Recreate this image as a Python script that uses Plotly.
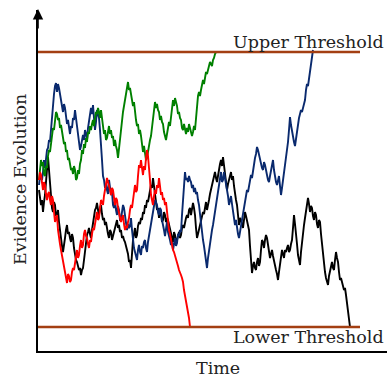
import plotly.graph_objects as go

# Decision thresholds (evidence units)
upper_threshold = 138
lower_threshold = -137
threshold_end_time = 322

# Random-walk trajectories: (time, evidence)
green_walk = [(1,10),(2,22),(3,30),(4,24),(5,28),(6,16),(7,14),(8,24),(9,22),(10,34),(11,40),(12,38),(13,46),(14,58),(15,62),(16,60),(17,68),(18,78),(19,76),(20,70),(21,72),(22,62),(23,65),(24,58),(25,56),(26,46),(27,48),(28,38),(29,40),(30,30),(31,32),(32,24),(33,20),(34,22),(35,16),(36,24),(37,20),(38,10),(39,12),(40,20),(41,16),(42,26),(43,30),(44,40),(45,36),(46,46),(47,42),(48,52),(49,48),(50,58),(51,56),(52,64),(53,60),(54,66),(55,70),(56,64),(57,72),(58,78),(59,76),(60,82),(61,78),(62,72),(63,80),(64,70),(65,66),(66,56),(67,60),(68,50),(69,52),(70,58),(71,64),(72,56),(73,60),(74,52),(75,54),(76,44),(77,50),(78,44),(79,40),(80,32),(81,42),(82,50),(83,62),(84,70),(85,78),(86,84),(87,92),(88,96),(89,102),(90,108),(91,100),(92,102),(93,96),(94,90),(95,84),(96,88),(97,76),(98,70),(99,64),(100,66),(101,56),(102,60),(103,54),(104,46),(105,38),(106,44),(107,36),(108,30),(109,32),(110,40),(111,44),(112,50),(113,54),(114,64),(115,72),(116,78),(117,88),(118,82),(119,86),(120,80),(121,78),(122,70),(123,74),(124,68),(125,66),(126,58),(127,54),(128,50),(129,56),(130,62),(131,68),(132,64),(133,74),(134,82),(135,90),(136,84),(137,92),(138,88),(139,84),(140,76),(141,78),(142,72),(143,70),(144,62),(145,60),(146,66),(147,60),(148,56),(149,62),(150,58),(151,66),(152,62),(153,60),(154,54),(155,58),(156,64),(157,60),(158,74),(159,90),(160,94),(161,98),(162,94),(163,100),(164,104),(165,110),(166,106),(167,112),(168,118),(169,116),(170,120),(171,122),(172,128),(173,126),(174,124),(175,130),(176,132),(177,136),(178,138)]

blue_walk = [(1,5),(2,14),(3,12),(4,10),(5,18),(6,30),(7,22),(8,34),(9,40),(10,42),(11,50),(12,48),(13,62),(14,78),(15,90),(16,96),(17,104),(18,107),(19,98),(20,106),(21,102),(22,94),(23,90),(24,84),(25,78),(26,86),(27,82),(28,72),(29,66),(30,70),(31,60),(32,56),(33,64),(34,62),(35,72),(36,70),(37,80),(38,72),(39,62),(40,58),(41,50),(42,40),(43,44),(44,50),(45,55),(46,50),(47,60),(48,56),(49,50),(50,62),(51,70),(52,76),(53,82),(54,76),(55,85),(56,72),(57,60),(58,68),(59,80),(60,76),(61,72),(62,60),(63,48),(64,30),(65,14),(66,10),(67,2),(68,6),(69,0),(70,-4),(71,10),(72,4),(73,-5),(74,-2),(75,-15),(76,-18),(77,-10),(78,-20),(79,-25),(80,-16),(81,-20),(82,-30),(83,-30),(84,-22),(85,-15),(86,-18),(87,-25),(88,-32),(89,-40),(90,-34),(91,-38),(92,-36),(93,-28),(94,-40),(95,-50),(96,-58),(97,-62),(98,-66),(99,-70),(100,-60),(101,-55),(102,-62),(103,-65),(104,-56),(105,-58),(106,-52),(107,-50),(108,-58),(109,-62),(110,-52),(111,-46),(112,-44),(113,-38),(114,-30),(115,-25),(116,-18),(117,-10),(118,-12),(119,-15),(120,-22),(121,-25),(122,-18),(123,-20),(124,-30),(125,-38),(126,-40),(127,-46),(128,-36),(129,-32),(130,-42),(131,-48),(132,-50),(133,-55),(134,-52),(135,-60),(136,-54),(137,-48),(138,-56),(139,-53),(140,-44),(141,-46),(142,-40),(143,-42),(144,-25),(145,-10),(146,4),(147,18),(148,10),(149,12),(150,8),(151,14),(152,10),(153,8),(154,2),(155,5),(156,-2),(157,2),(158,-4),(159,-2),(160,-10),(161,-15),(162,-24),(163,-35),(164,-44),(165,-50),(166,-56),(167,-65),(168,-70),(169,-78),(170,-68),(171,-60),(172,-52),(173,-45),(174,-40),(175,-35),(176,-28),(177,-20),(178,-14),(179,-5),(180,-2),(181,5),(182,12),(183,18),(184,8),(185,10),(186,18),(187,12),(188,6),(189,4),(190,-6),(191,-15),(192,-10),(193,-6),(194,-14),(195,-20),(196,-28),(197,-35),(198,-30),(199,-40),(200,-44),(201,-48),(202,-42),(203,-38),(204,-32),(205,-25),(206,-20),(207,-15),(208,-8),(209,0),(210,-2),(211,5),(212,10),(213,15),(214,12),(215,20),(216,26),(217,32),(218,36),(219,43),(220,40),(221,35),(222,30),(223,28),(224,22),(225,20),(226,28),(227,25),(228,18),(229,15),(230,10),(231,8),(232,14),(233,20),(234,24),(235,30),(236,20),(237,12),(238,8),(239,5),(240,10),(241,14),(242,4),(243,-5),(244,2),(245,10),(246,16),(247,20),(248,30),(249,38),(250,48),(251,60),(252,73),(253,65),(254,58),(255,52),(256,48),(257,44),(258,52),(259,62),(260,66),(261,72),(262,76),(263,80),(264,78),(265,82),(266,88),(267,90),(268,100),(269,106),(270,104),(271,112),(272,118),(273,125),(274,133),(275,140)]

red_walk = [(1,10),(2,18),(3,15),(4,6),(5,0),(6,8),(7,5),(8,-4),(9,-10),(10,-4),(11,-2),(12,-10),(13,-15),(14,-6),(15,-10),(16,-22),(17,-32),(18,-28),(19,-25),(20,-40),(21,-50),(22,-54),(23,-60),(24,-66),(25,-72),(26,-74),(27,-80),(28,-88),(29,-93),(30,-84),(31,-86),(32,-92),(33,-90),(34,-82),(35,-78),(36,-80),(37,-72),(38,-66),(39,-60),(40,-68),(41,-65),(42,-56),(43,-50),(44,-58),(45,-55),(46,-44),(47,-40),(48,-46),(49,-48),(50,-54),(51,-58),(52,-50),(53,-52),(54,-44),(55,-38),(56,-40),(57,-35),(58,-28),(59,-22),(60,-30),(61,-28),(62,-18),(63,-10),(64,-12),(65,-15),(66,-6),(67,0),(68,4),(69,12),(70,8),(71,5),(72,0),(73,-5),(74,2),(75,0),(76,-8),(77,-15),(78,-8),(79,-10),(80,-18),(81,-22),(82,-26),(83,-32),(84,-28),(85,-25),(86,-34),(87,-40),(88,-36),(89,-38),(90,-32),(91,-28),(92,-20),(93,-15),(94,-18),(95,-10),(96,-2),(97,5),(98,-2),(99,0),(100,14),(101,25),(102,22),(103,30),(104,22),(105,15),(106,24),(107,20),(108,32),(109,40),(110,34),(111,25),(112,10),(113,-5),(114,-10),(115,-15),(116,-6),(117,0),(118,-4),(119,5),(120,2),(121,12),(122,4),(123,-5),(124,-2),(125,-10),(126,-8),(127,-15),(128,-12),(129,-22),(130,-30),(131,-40),(132,-44),(133,-50),(134,-56),(135,-60),(136,-62),(137,-65),(138,-70),(139,-72),(140,-76),(141,-80),(142,-82),(143,-85),(144,-88),(145,-92),(146,-100),(147,-105),(148,-110),(149,-115),(150,-122),(151,-128),(152,-137)]

black_walk = [(1,0),(2,-8),(3,-15),(4,-10),(5,-22),(6,-12),(7,-5),(8,8),(9,20),(10,33),(11,20),(12,4),(13,-10),(14,-18),(15,-22),(16,-12),(17,-15),(18,-26),(19,-25),(20,-20),(21,-32),(22,-42),(23,-50),(24,-56),(25,-62),(26,-52),(27,-48),(28,-40),(29,-35),(30,-44),(31,-42),(32,-48),(33,-52),(34,-44),(35,-48),(36,-58),(37,-65),(38,-70),(39,-72),(40,-76),(41,-80),(42,-78),(43,-85),(44,-80),(45,-78),(46,-70),(47,-60),(48,-54),(49,-45),(50,-42),(51,-38),(52,-44),(53,-48),(54,-40),(55,-32),(56,-28),(57,-20),(58,-18),(59,-13),(60,-20),(61,-25),(62,-18),(63,-15),(64,-24),(65,-30),(66,-28),(67,-35),(68,-32),(69,-40),(70,-44),(71,-48),(72,-40),(73,-42),(74,-50),(75,-46),(76,-40),(77,-38),(78,-34),(79,-30),(80,-38),(81,-35),(82,-42),(83,-40),(84,-48),(85,-46),(86,-50),(87,-52),(88,-56),(89,-60),(90,-64),(91,-72),(92,-70),(93,-78),(94,-62),(95,-50),(96,-44),(97,-38),(98,-48),(99,-45),(100,-36),(101,-32),(102,-34),(103,-28),(104,-30),(105,-22),(106,-24),(107,-15),(108,-18),(109,-10),(110,-12),(111,-5),(112,-2),(113,5),(114,2),(115,12),(116,4),(117,-5),(118,-12),(119,-20),(120,-18),(121,-28),(122,-20),(123,-24),(124,-32),(125,-30),(126,-22),(127,-25),(128,-32),(129,-28),(130,-30),(131,-35),(132,-40),(133,-45),(134,-48),(135,-52),(136,-42),(137,-45),(138,-54),(139,-50),(140,-46),(141,-42),(142,-48),(143,-45),(144,-38),(145,-35),(146,-38),(147,-32),(148,-28),(149,-25),(150,-28),(151,-20),(152,-18),(153,-25),(154,-20),(155,-13),(156,-18),(157,-25),(158,-38),(159,-48),(160,-44),(161,-40),(162,-36),(163,-32),(164,-26),(165,-22),(166,-24),(167,-15),(168,-12),(169,-20),(170,-16),(171,-10),(172,-4),(173,0),(174,4),(175,8),(176,14),(177,18),(178,12),(179,8),(180,14),(181,22),(182,26),(183,30),(184,24),(185,33),(186,24),(187,15),(188,8),(189,0),(190,6),(191,10),(192,14),(193,18),(194,10),(195,14),(196,4),(197,-5),(198,-10),(199,-15),(200,-26),(201,-35),(202,-28),(203,-30),(204,-34),(205,-38),(206,-30),(207,-22),(208,-26),(209,-30),(210,-36),(211,-40),(212,-56),(213,-70),(214,-83),(215,-76),(216,-72),(217,-78),(218,-80),(219,-72),(220,-68),(221,-76),(222,-72),(223,-60),(224,-50),(225,-52),(226,-58),(227,-50),(228,-45),(229,-48),(230,-55),(231,-62),(232,-68),(233,-64),(234,-60),(235,-66),(236,-72),(237,-76),(238,-80),(239,-84),(240,-90),(241,-82),(242,-75),(243,-66),(244,-60),(245,-64),(246,-68),(247,-60),(248,-62),(249,-58),(250,-55),(251,-62),(252,-60),(253,-54),(254,-50),(255,-38),(256,-25),(257,-34),(258,-42),(259,-54),(260,-65),(261,-70),(262,-75),(263,-62),(264,-50),(265,-42),(266,-35),(267,-28),(268,-20),(269,-14),(270,-8),(271,-14),(272,-22),(273,-16),(274,-18),(275,-26),(276,-30),(277,-22),(278,-25),(279,-34),(280,-38),(281,-30),(282,-32),(283,-44),(284,-55),(285,-66),(286,-75),(287,-82),(288,-88),(289,-92),(290,-95),(291,-86),(292,-82),(293,-76),(294,-72),(295,-78),(296,-80),(297,-70),(298,-62),(299,-68),(300,-72),(301,-82),(302,-90),(303,-88),(304,-94),(305,-96),(306,-100),(307,-98),(308,-105),(309,-112),(310,-118),(311,-128),(312,-137)]

series = [
    ("black", black_walk, "#000000"),
    ("blue", blue_walk, "#0a2a6e"),
    ("green", green_walk, "#008000"),
    ("red", red_walk, "#ff0000"),
]

FONT = "DejaVu Serif"
TEXT_SIZE = 17.5
fig = go.Figure()

for name, walk, color in series:
    t = [p[0] for p in walk]
    e = [p[1] for p in walk]
    fig.add_trace(go.Scatter(x=t, y=e, mode="lines", name=name,
                             line=dict(color=color, width=1.9), showlegend=False))

for level in (upper_threshold, lower_threshold):
    fig.add_trace(go.Scatter(x=[0, threshold_end_time], y=[level, level], mode="lines",
                             line=dict(color="#a33f12", width=2.5), showlegend=False))

fig.add_annotation(x=349, y=upper_threshold, xref="x", yref="y", text="Upper Threshold",
                   showarrow=False, xanchor="right", yanchor="bottom", yshift=-2, xshift=-1,
                   font=dict(family=FONT, size=TEXT_SIZE, color="#222"))
fig.add_annotation(x=349, y=lower_threshold, xref="x", yref="y", text="Lower Threshold",
                   showarrow=False, xanchor="right", yanchor="top", yshift=2, xshift=-1,
                   font=dict(family=FONT, size=TEXT_SIZE, color="#222"))
fig.add_annotation(x=180, y=0, xref="x", yref="paper", text="Time", showarrow=False,
                   xanchor="center", yanchor="top", yshift=-5,
                   font=dict(family=FONT, size=TEXT_SIZE, color="#222"))
fig.add_annotation(x=0, y=10, xref="paper", yref="y", text="Evidence Evolution",
                   showarrow=False, textangle=-90, xanchor="center", yanchor="middle",
                   xshift=-18, font=dict(family=FONT, size=TEXT_SIZE, color="#222"))
# arrow head at the top of the evidence axis
fig.add_annotation(x=0, y=181, ax=0, ay=160, xref="x", yref="y", axref="x", ayref="y",
                   text="", showarrow=True, arrowhead=2, arrowsize=1.3, arrowwidth=1.6,
                   arrowcolor="#000")

fig.update_layout(
    width=387, height=377,
    margin=dict(l=38, r=0, t=10, b=26),
    plot_bgcolor="white", paper_bgcolor="white",
    xaxis=dict(range=[0, 349], showgrid=False, zeroline=False, showticklabels=False,
               ticks="", showline=True, linecolor="black", linewidth=1.6),
    yaxis=dict(range=[-161, 180], showgrid=False, zeroline=False, showticklabels=False,
               ticks="", showline=True, linecolor="black", linewidth=1.6),
)

fig.write_html("out.html")
